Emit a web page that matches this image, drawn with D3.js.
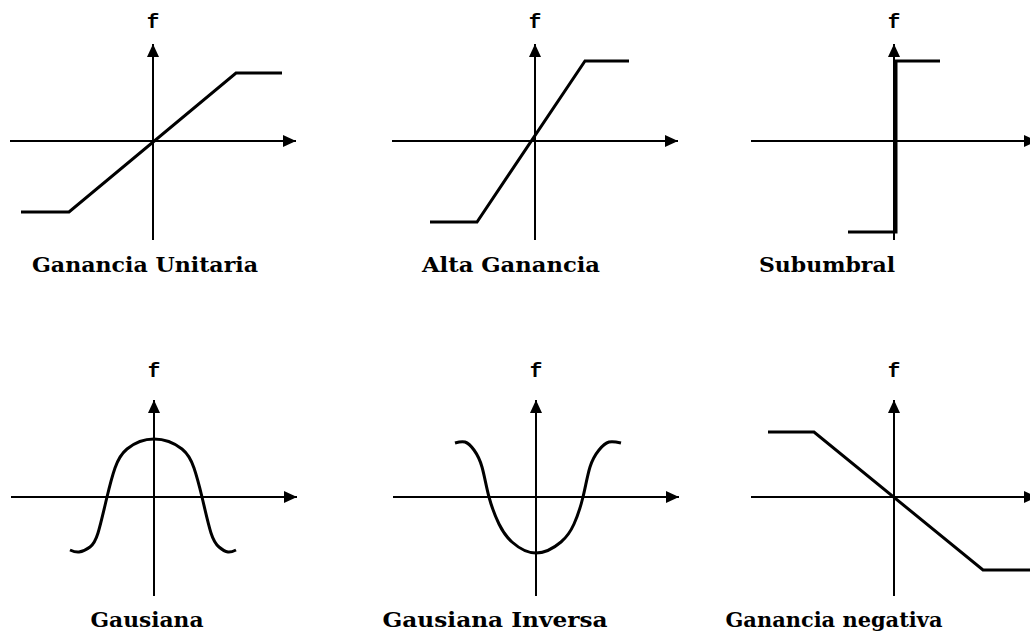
<!DOCTYPE html>
<html>
<head>
<meta charset="utf-8">
<script src="https://cdn.jsdelivr.net/npm/d3@7"></script>
<style>
  html, body { margin: 0; padding: 0; background: #fff; }
  svg { display: block; }
</style>
</head>
<body>
<div id="chart"></div>
<script>
// Activation functions, values (x, f(x))
const titles = ["Ganancia Unitaria", "Alta Ganancia", "Subumbral",
                "Gausiana", "Gausiana Inversa", "Ganancia negativa"];

const gananciaUnitaria = [[-1.32, -0.71], [-0.84, -0.71], [0.83, 0.68], [1.29, 0.68]];
const altaGanancia = [[-1.05, -0.81], [-0.58, -0.81], [0.50, 0.80], [0.94, 0.80]];
const subumbral = [[-0.46, -0.91], [0.02, -0.91], [0.02, 0.80], [0.46, 0.80]];
const gausiana = [
  [-0.84, -0.53], [-0.75, -0.55], [-0.64, -0.50], [-0.56, -0.36],
  [-0.47, 0.00], [-0.39, 0.29], [-0.27, 0.48],
  [0.00, 0.58], [0.28, 0.48],
  [0.40, 0.29], [0.48, 0.00], [0.57, -0.36],
  [0.65, -0.50], [0.74, -0.55], [0.82, -0.53]
];
const gausianaInversa = [
  [-0.81, 0.54], [-0.71, 0.55], [-0.62, 0.47], [-0.54, 0.30],
  [-0.47, 0.00], [-0.37, -0.27], [-0.24, -0.45],
  [0.00, -0.56], [0.25, -0.45], [0.38, -0.27],
  [0.47, 0.00], [0.54, 0.30], [0.63, 0.47], [0.73, 0.55], [0.85, 0.54]
];
const gananciaNegativa = [[-1.26, 0.65], [-0.80, 0.65], [0.89, -0.73], [1.40, -0.73]];

// axis extent in data units
const xExtent = [-1.43, 1.43];
const yExtent = [-0.99, 0.97];

// layout: origin of each small plot, "f" baseline, label centre/width
const panels = [
  { data: gananciaUnitaria, smooth: false, ox: 153, oy: 141, fy: 28,  lx: 145, lw: 226, ly: 272 },
  { data: altaGanancia,     smooth: false, ox: 535, oy: 141, fy: 28,  lx: 511, lw: 178, ly: 272 },
  { data: subumbral,        smooth: false, ox: 894, oy: 141, fy: 28,  lx: 827, lw: 136, ly: 272 },
  { data: gausiana,         smooth: true,  ox: 154, oy: 497, fy: 377, lx: 147, lw: 113, ly: 627 },
  { data: gausianaInversa,  smooth: true,  ox: 536, oy: 497, fy: 377, lx: 495, lw: 225, ly: 627 },
  { data: gananciaNegativa, smooth: false, ox: 894, oy: 497, fy: 377, lx: 834, lw: 217, ly: 627 }
];
panels.forEach((p, i) => p.title = titles[i]);

const W = 1030, H = 634, pxPerUnit = 100;

const svg = d3.select("#chart").append("svg")
  .attr("width", W)
  .attr("height", H)
  .attr("viewBox", `0 0 ${W} ${H}`);

svg.append("rect").attr("width", W).attr("height", H).attr("fill", "#fff");

// arrow head
svg.append("defs").append("marker")
  .attr("id", "arrow")
  .attr("markerUnits", "userSpaceOnUse")
  .attr("markerWidth", 14)
  .attr("markerHeight", 12)
  .attr("refX", 13)
  .attr("refY", 6)
  .attr("orient", "auto")
  .append("path")
  .attr("d", "M0,0 L13,6 L0,12 Z")
  .attr("fill", "#000");

panels.forEach(p => {
  const x = d3.scaleLinear()
    .domain([0, 1])
    .range([p.ox, p.ox + pxPerUnit]);
  const y = d3.scaleLinear()
    .domain([0, 1])
    .range([p.oy, p.oy - pxPerUnit]);

  const g = svg.append("g");

  // horizontal axis
  g.append("line")
    .attr("x1", x(xExtent[0])).attr("x2", x(xExtent[1]))
    .attr("y1", y(0)).attr("y2", y(0))
    .attr("stroke", "#000").attr("stroke-width", 2)
    .attr("marker-end", "url(#arrow)");

  // vertical axis
  g.append("line")
    .attr("x1", x(0)).attr("x2", x(0))
    .attr("y1", y(yExtent[0])).attr("y2", y(yExtent[1]))
    .attr("stroke", "#000").attr("stroke-width", 2)
    .attr("marker-end", "url(#arrow)");

  // "f" label above the y axis
  g.append("text")
    .attr("x", x(0))
    .attr("y", p.fy)
    .attr("text-anchor", "middle")
    .style("font-family", "'Liberation Mono', 'DejaVu Sans Mono', monospace")
    .style("font-weight", "bold")
    .style("font-size", "21px")
    .text("f");

  const line = d3.line()
    .x(d => x(d[0]))
    .y(d => y(d[1]))
    .curve(p.smooth ? d3.curveNatural : d3.curveLinear);

  g.append("path")
    .datum(p.data)
    .attr("d", line)
    .attr("fill", "none")
    .attr("stroke", "#000")
    .attr("stroke-width", 3)
    .attr("stroke-linejoin", "miter");

  // caption
  g.append("text")
    .attr("x", p.lx - p.lw / 2)
    .attr("y", p.ly)
    .attr("textLength", p.lw)
    .attr("lengthAdjust", "spacingAndGlyphs")
    .style("font-family", "'DejaVu Serif', 'Liberation Serif', serif")
    .style("font-weight", "bold")
    .style("font-size", "20px")
    .text(p.title);
});
</script>
</body>
</html>
